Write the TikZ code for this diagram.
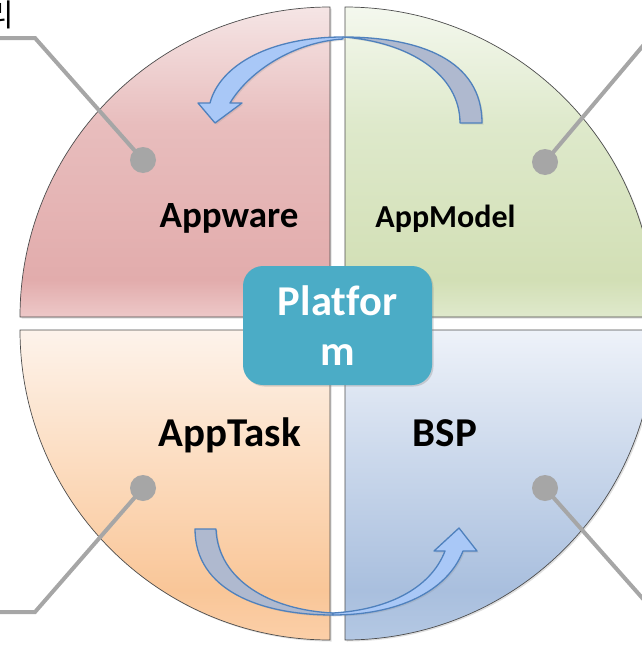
\documentclass[tikz,border=0pt]{standalone}
\usepackage{fontspec}
\setmainfont[Ligatures=NoCommon]{Carlito}
\newfontfamily\krfont{Noto Sans CJK KR}
\usepackage{xcolor}
\usepackage{tikz}
\usetikzlibrary{shadows}

\definecolor{tlA}{HTML}{F5E5E5}
\definecolor{tlB}{HTML}{E8BDBD}
\definecolor{tlC}{HTML}{E2ACAC}
\definecolor{tlD}{HTML}{EDC8C8}
\definecolor{trA}{HTML}{F4F8EE}
\definecolor{trB}{HTML}{DEE9CB}
\definecolor{trC}{HTML}{D2DFB5}
\definecolor{trD}{HTML}{DFE9CC}
\definecolor{blA}{HTML}{FDF3EB}
\definecolor{blB}{HTML}{FCDEC3}
\definecolor{blC}{HTML}{F9C698}
\definecolor{blD}{HTML}{FBCFA8}
\definecolor{brA}{HTML}{EEF2F9}
\definecolor{brB}{HTML}{CCD9EC}
\definecolor{brC}{HTML}{A9BFDE}
\definecolor{brD}{HTML}{B4C8E3}
\definecolor{platteal}{HTML}{4BACC6}
\definecolor{arrowline}{HTML}{4F81BD}
\definecolor{arrowlight}{HTML}{A9C8F7}
\definecolor{arrowdark}{HTML}{AFB9CF}
\definecolor{calloutgray}{HTML}{A6A6A6}

\pgfdeclareverticalshading{tlshade}{100bp}{color(0bp)=(tlD); color(25bp)=(tlD); color(31bp)=(tlC); color(56bp)=(tlB); color(75bp)=(tlA); color(100bp)=(tlA)}
\pgfdeclareverticalshading{trshade}{100bp}{color(0bp)=(trD); color(25bp)=(trD); color(31bp)=(trC); color(56bp)=(trB); color(75bp)=(trA); color(100bp)=(trA)}
\pgfdeclareverticalshading{blshade}{100bp}{color(0bp)=(blD); color(25bp)=(blD); color(33bp)=(blC); color(55bp)=(blB); color(75bp)=(blA); color(100bp)=(blA)}
\pgfdeclareverticalshading{brshade}{100bp}{color(0bp)=(brD); color(25bp)=(brD); color(33bp)=(brC); color(55bp)=(brB); color(75bp)=(brA); color(100bp)=(brA)}

\begin{document}
\begin{tikzpicture}[
  x=1pt, y=-1pt,
  quad/.style={draw=gray!60!black, line width=0.7pt, drop shadow={opacity=0.25, shadow xshift=1.5pt, shadow yshift=-1.5pt}},
  callout/.style={draw=calloutgray, line width=4pt},
  dot/.style={circle, fill=calloutgray, inner sep=0pt, minimum size=26pt},
  ribbon/.style={draw=arrowline, line width=1.3pt, line join=round, drop shadow={opacity=0.2, shadow xshift=1.5pt, shadow yshift=-1.5pt}},
  word/.style={font=\bfseries\fontsize{41}{47}\selectfont, inner sep=0pt, anchor=base},
  hub/.style={rectangle, rounded corners=20pt, fill=platteal, text=white, align=center, minimum width=189pt, minimum height=119pt, font=\bfseries\fontsize{42.5}{50}\selectfont, drop shadow={opacity=0.3, shadow xshift=1.5pt, shadow yshift=-1.5pt}}
]
  \useasboundingbox (0,0) rectangle (641,645);

  \node[anchor=base west, inner sep=0pt, font=\krfont\fontsize{31}{33}\selectfont] (corner) at (-15,26) {리};

  \draw[quad, shading=tlshade] (330,317) -- (20,317) arc[start angle=180, end angle=270, radius=310] -- cycle;
  \draw[quad, shading=trshade] (345,317) -- (345,7) arc[start angle=270, end angle=360, radius=310] -- cycle;
  \draw[quad, shading=blshade] (330,330) -- (330,640) arc[start angle=90, end angle=180, radius=310] -- cycle;
  \draw[quad, shading=brshade] (345,330) -- (655,330) arc[start angle=0, end angle=90, radius=310] -- cycle;

  \coordinate (tlbend) at (35,38);
  \coordinate (tlend) at (-5,38);
  \coordinate (trend) at (652,35);
  \coordinate (brend) at (652,609);
  \coordinate (blbend) at (35,612);
  \coordinate (blend) at (-5,612);

  \node[dot] (tldot) at (143,160) {};
  \node[dot] (trdot) at (545,162) {};
  \node[dot] (bldot) at (143,488) {};
  \node[dot] (brdot) at (545,488) {};

  \draw[callout] (tldot.center) -- (tlbend) -- (tlend);
  \draw[callout] (trdot.center) -- (trend);
  \draw[callout] (brdot.center) -- (brend);
  \draw[callout] (bldot.center) -- (blbend) -- (blend);

  \draw[ribbon, fill=arrowdark] (460,123) -- (482,123) .. controls (482,60) and (420,37) .. (343,37)
    .. controls (410,42) and (460,75) .. (460,123) -- cycle;
  \draw[ribbon, fill=arrowlight] (343,37) .. controls (270,37) and (220,65) .. (210,103)
    -- (198,103) -- (215,123) -- (242,103) -- (230,103)
    .. controls (250,70) and (295,42) .. (343,39) -- cycle;

  \draw[ribbon, fill=arrowdark] (195,529) -- (216,529) .. controls (218,580) and (270,610) .. (333,613)
    -- (333,615) .. controls (260,615) and (195,590) .. (195,529) -- cycle;
  \draw[ribbon, fill=arrowlight] (333,615) .. controls (397,615) and (447,592) .. (463,551)
    -- (477,551) -- (459,528) -- (434,551) -- (445,551)
    .. controls (430,590) and (385,610) .. (333,613) -- cycle;

  \node[word, font=\bfseries\fontsize{37}{42}\selectfont] (appware) at (229,227) {Appware};
  \node[word, font=\bfseries\fontsize{32}{37}\selectfont] (appmodel) at (445.5,227) {AppModel};
  \node[word] (apptask) at (229.5,446) {AppTask};
  \node[word] (bsp) at (445,446) {BSP};

  \node[hub] (platform) at (337.5,325.5) {Platfor\\m};
\end{tikzpicture}
\end{document}
